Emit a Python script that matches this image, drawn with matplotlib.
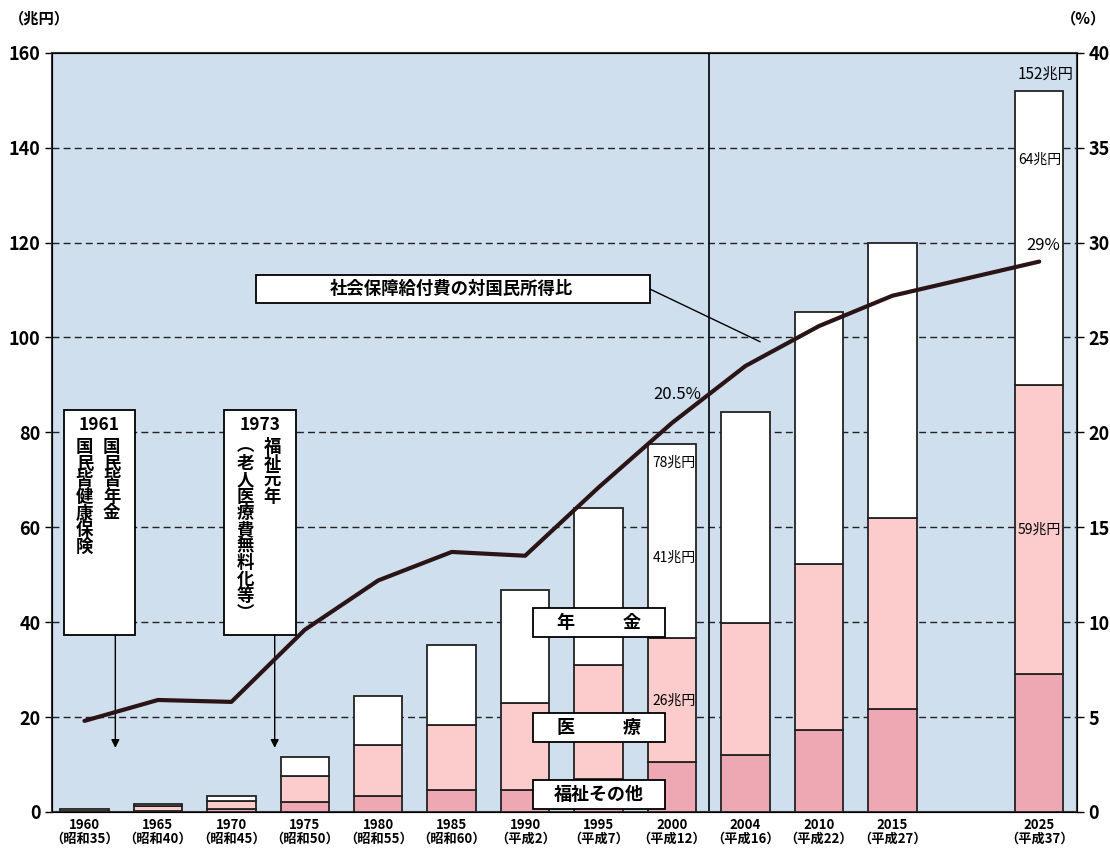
import matplotlib.pyplot as plt
import numpy as np

plt.rcParams['font.family'] = ['Noto Sans CJK JP', 'DejaVu Sans']

years = ['1960', '1965', '1970', '1975', '1980', '1985', '1990',
         '1995', '2000', '2004', '2010', '2015', '2025']
eras = ['（昭和35）', '（昭和40）', '（昭和45）', '（昭和50）', '（昭和55）', '（昭和60）',
        '（平成2）', '（平成7）', '（平成12）', '（平成16）', '（平成22）', '（平成27）', '（平成37）']
slots = [0, 1, 2, 3, 4, 5, 6, 7, 8, 9, 10, 11, 13]

# 兆円
welfare = [0.1, 0.2, 0.6, 2.1, 3.4, 4.6, 4.7, 7.0, 10.6, 12.0, 17.3, 21.7, 29.0]
medical = [0.1, 1.1, 1.7, 5.5, 10.7, 13.7, 18.3, 24.0, 26.0, 27.8, 35.0, 40.3, 61.0]
pension = [0.45, 0.3, 1.1, 4.0, 10.4, 16.9, 23.8, 33.1, 40.9, 44.5, 53.1, 58.0, 62.0]

# 対国民所得比 (%)
ratio = [4.8, 5.9, 5.8, 9.6, 12.2, 13.7, 13.5, 17.1, 20.5, 23.5, 25.6, 27.2, 29.0]

bg = '#cfdfee'
c_med = '#fccbcc'
c_wel = '#eea8b4'

fig = plt.figure(figsize=(11.1, 8.52), dpi=100)
ax = fig.add_axes([0.047, 0.047, 0.923, 0.891])
ax.set_facecolor(bg)

x = np.array(slots, dtype=float)
w = 0.66
wel = np.array(welfare)
med = np.array(medical)
pen = np.array(pension)
kw = dict(width=w, edgecolor='#222222', linewidth=1.3, zorder=3)
ax.bar(x, wel, color=c_wel, **kw)
ax.bar(x, med, bottom=wel, color=c_med, **kw)
ax.bar(x, pen, bottom=wel + med, color='white', **kw)

ax.set_xlim(-0.44, 13.51)
ax.set_ylim(0, 160)
ax.set_yticks(range(0, 161, 20))
ax.tick_params(axis='y', labelsize=13, length=5, width=1)
for t in ax.get_yticklabels():
    t.set_fontweight('bold')
for v in range(20, 160, 20):
    ax.axhline(v, color='#222222', lw=1.0, ls=(0, (5, 3)), zorder=1)
ax.set_xticks(x)
ax.set_xticklabels([f'{a}\n{b}' for a, b in zip(years, eras)],
                   fontsize=9.5, fontweight='bold', linespacing=1.05)
ax.tick_params(axis='x', length=0, pad=4)
for s in ax.spines.values():
    s.set_linewidth(1.5)
    s.set_color('#333333')

ax.axvline(8.5, color='black', lw=1.2, zorder=2)

ax2 = ax.twinx()
ax2.set_ylim(0, 40)
ax2.set_yticks(range(0, 41, 5))
ax2.tick_params(axis='y', labelsize=13, length=5, width=1)
for t in ax2.get_yticklabels():
    t.set_fontweight('bold')
ax2.plot(x, ratio, color='#2a1416', lw=3, zorder=5, solid_capstyle='round')

fig.text(0.008, 0.978, '（兆円）', fontsize=11, fontweight='bold', va='center')
fig.text(0.976, 0.978, '（%）', fontsize=11, fontweight='bold', va='center', ha='center')

# value labels
ax.text(13.46, 152.2 + 1.5, '152兆円', ha='right', va='bottom', fontsize=11)
ax.text(13.3, 137.5, '64兆円', ha='right', va='center', fontsize=10)
ax.text(13.3, 59.5, '59兆円', ha='right', va='center', fontsize=10)
ax2.text(13.28, 29.4, '29%', ha='right', va='bottom', fontsize=12)
ax.text(8.32, 73.5, '78兆円', ha='right', va='center', fontsize=10)
ax.text(8.32, 53.5, '41兆円', ha='right', va='center', fontsize=10)
ax.text(8.32, 23.5, '26兆円', ha='right', va='center', fontsize=10)
ax2.text(8.4, 22.0, '20.5%', ha='right', va='center', fontsize=12)

# category boxes
for y0, y1, words in [(36.9, 43.0, ['年', '金']), (14.8, 20.9, ['医', '療']),
                      (0.6, 6.7, ['福祉その他'])]:
    ax.add_patch(plt.Rectangle((6.11, y0), 1.79, y1 - y0, fc='white', ec='black',
                               lw=1.3, zorder=6))
    yc = (y0 + y1) / 2
    if len(words) == 2:
        ax.text(6.55, yc, words[0], ha='center', va='center', fontsize=13,
                fontweight='bold', zorder=7)
        ax.text(7.45, yc, words[1], ha='center', va='center', fontsize=13,
                fontweight='bold', zorder=7)
    else:
        ax.text(7.0, yc, words[0], ha='center', va='center', fontsize=13,
                fontweight='bold', zorder=7)

# ratio annotation
ax.add_patch(plt.Rectangle((2.33, 107.3), 5.37, 5.9, fc='white', ec='black',
                           lw=1.3, zorder=6))
ax.text(5.0, 110.25, '社会保障給付費の対国民所得比', ha='center', va='center',
        fontsize=12.5, fontweight='bold', zorder=7)
ax.annotate('', xy=(9.2, 99.1), xytext=(7.7, 110.2),
            arrowprops=dict(arrowstyle='-', color='black', lw=1,
                            shrinkA=0, shrinkB=0), zorder=6)

# event boxes
for cx, ax_x, year, cols in [(0.2, 0.42, '1961', ['国民皆年金', '国民皆健康保険']),
                             (2.39, 2.59, '1973', ['福祉元年', '︵老人医療費無料化等︶'])]:
    rect = plt.Rectangle((cx - 0.485, 37.3), 0.97, 47.4, fc='white', ec='black',
                         lw=1.3, zorder=6)
    ax.add_patch(rect)
    ax.text(cx, 81.6, year, ha='center', va='center', fontsize=12.5,
            fontweight='bold', zorder=7)
    ax.text(cx + 0.17, 78.8, '\n'.join(cols[0]), ha='center', va='top',
            fontsize=12.5, fontweight='bold', linespacing=0.9, zorder=7)
    ax.text(cx - 0.2, 78.8, '\n'.join(cols[1]), ha='center', va='top',
            fontsize=12.5, fontweight='bold', linespacing=0.9, zorder=7)
    ax.annotate('', xy=(ax_x, 13.5), xytext=(ax_x, 37.3),
                arrowprops=dict(arrowstyle='-|>', color='black', lw=1,
                                mutation_scale=12, shrinkA=0, shrinkB=0), zorder=6)

fig.savefig('out.png', dpi=100)
